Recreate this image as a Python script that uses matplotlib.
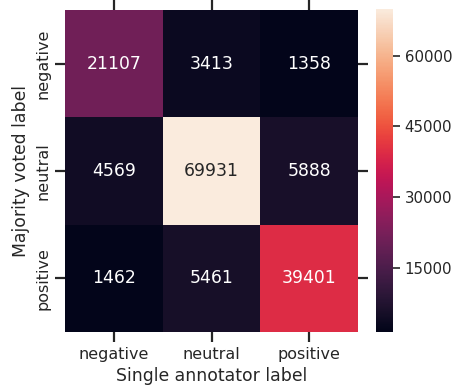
import numpy as np
import matplotlib
matplotlib.use("Agg")
import matplotlib.pyplot as plt
import seaborn as sns

categories = ["negative", "neutral", "positive"]
counts = [
    [21107, 3413, 1358],
    [4569, 69931, 5888],
    [1462, 5461, 39401],
]
cbar_ticks = [15000, 30000, 45000, 60000]

sns.set_theme(style="ticks", context="notebook")
plt.rcParams["font.family"] = ["DejaVu Sans"]
plt.rcParams["text.color"] = "#262626"
plt.rcParams["axes.labelcolor"] = "#262626"
plt.rcParams["xtick.color"] = "#262626"
plt.rcParams["ytick.color"] = "#262626"

fig = plt.figure(figsize=(4.59, 3.85), dpi=100)
ax = fig.add_axes([65 / 459, 1 - 332 / 385, 293 / 459, 322 / 385])
cax = fig.add_axes([376 / 459, 1 - 332 / 385, 17 / 459, 323 / 385])

data = np.array(counts)
sns.heatmap(data, annot=True, fmt="d", cmap="rocket", ax=ax, cbar_ax=cax,
            xticklabels=categories, yticklabels=categories,
            annot_kws={"fontsize": 12.4},
            cbar_kws={"ticks": cbar_ticks})

ax.tick_params(axis="both", which="major", direction="out", length=7.2,
               width=1.6, labelsize=11.5, top=True, right=True,
               labeltop=False, labelright=False)
ax.set_yticklabels(categories, rotation=90, va="center")
ax.set_xlabel("Single annotator label", fontsize=12.4, labelpad=4)
ax.set_ylabel("Majority voted label", fontsize=12.4, labelpad=4)

cax.tick_params(length=5, width=1.2, labelsize=10.8)

fig.savefig("out.png", dpi=100)
